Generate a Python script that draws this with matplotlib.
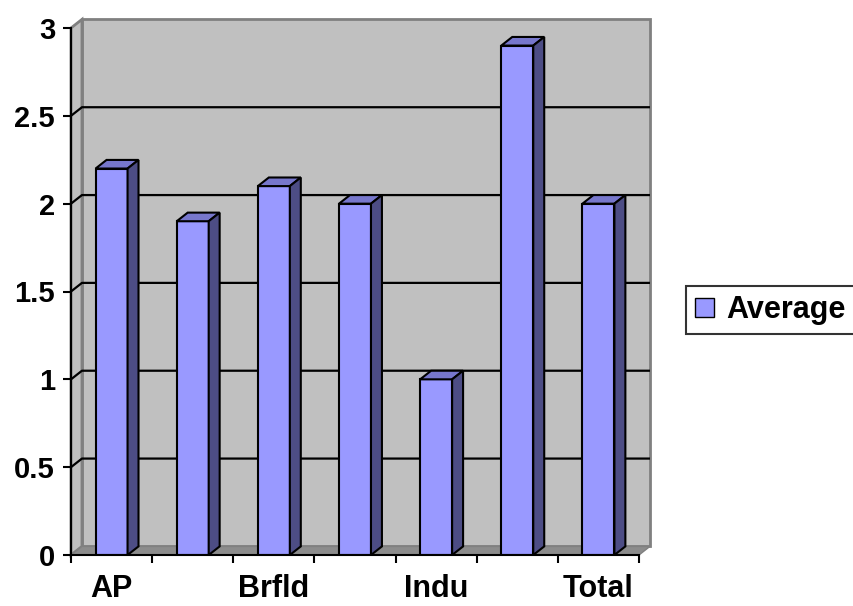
import matplotlib.pyplot as plt
from matplotlib.patches import Polygon, Patch

plt.rcParams['font.family'] = ['Liberation Sans', 'DejaVu Sans']
plt.rcParams['font.weight'] = 'bold'

# column chart data
categories = ["AP", "", "Brfld", "", "Indu", "", "Total"]
average = [2.2, 1.9, 2.1, 2.0, 1.0, 2.9, 2.0]
y_ticks = [0, 0.5, 1, 1.5, 2, 2.5, 3]
y_tick_labels = ["0", "0.5", "1", "1.5", "2", "2.5", "3"]

FRONT = "#9999FF"
TOP = "#7777CC"
SIDE = "#4D4D85"
WALL = "#C0C0C0"
FLOOR = "#8C8C8C"
EDGE_GRAY = "#808080"

# depth offset of the 3d effect, in data units
DX = 0.135
DY = 0.049
BAR_W = 0.394

fig = plt.figure(figsize=(8.54, 6.06), dpi=100)
ax = fig.add_axes([71 / 854, 51 / 606, 568 / 854, 527 / 606])
ax.patch.set_visible(False)

n = len(categories)
x0, x1 = -0.5, n - 0.5
ymax = 3

# back wall, side wall and floor
back = Polygon([(x0 + DX, DY), (x1 + DX, DY), (x1 + DX, ymax + DY), (x0 + DX, ymax + DY)],
               closed=True, facecolor=WALL, edgecolor=EDGE_GRAY, lw=2, zorder=0.5, clip_on=False)
side = Polygon([(x0, 0), (x0 + DX, DY), (x0 + DX, ymax + DY), (x0, ymax)],
               closed=True, facecolor=WALL, edgecolor=EDGE_GRAY, lw=2, zorder=0.6, clip_on=False)
floor = Polygon([(x0, 0), (x1, 0), (x1 + DX, DY), (x0 + DX, DY)],
                closed=True, facecolor=FLOOR, edgecolor=EDGE_GRAY, lw=1, zorder=0.7, clip_on=False)
for p in (back, side, floor):
    ax.add_patch(p)

# gridlines running over side wall and back wall
for v in y_ticks[1:-1]:
    ax.plot([x0, x0 + DX, x1 + DX], [v, v + DY, v + DY], color="black", lw=1.6,
            zorder=1, clip_on=False, solid_capstyle="butt")

# bars: front faces plus top and side faces
xs = list(range(n))
bars = ax.bar(xs, average, width=BAR_W, color=FRONT, edgecolor="black", lw=1.5, zorder=3)
for x, v in zip(xs, average):
    l, r = x - BAR_W / 2, x + BAR_W / 2
    top = Polygon([(l, v), (r, v), (r + DX, v + DY), (l + DX, v + DY)], closed=True,
                  facecolor=TOP, edgecolor="black", lw=1.5, zorder=3, clip_on=False,
                  joinstyle="miter")
    sd = Polygon([(r, 0), (r + DX, DY), (r + DX, v + DY), (r, v)], closed=True,
                 facecolor=SIDE, edgecolor="black", lw=1.5, zorder=3, clip_on=False,
                 joinstyle="miter")
    ax.add_patch(top)
    ax.add_patch(sd)

ax.set_xlim(x0, x1)
ax.set_ylim(0, ymax)

for s in ("top", "right"):
    ax.spines[s].set_visible(False)
for s in ("left", "bottom"):
    ax.spines[s].set_linewidth(1.5)
    ax.spines[s].set_zorder(4)

ax.set_yticks(y_ticks)
ax.set_yticklabels(y_tick_labels)
ax.tick_params(axis="y", length=6, width=1.5, pad=5.5, labelsize=21)

# boundary ticks on the category axis, labels at the centres
ax.set_xticks([i - 0.5 for i in range(n + 1)])
ax.set_xticklabels([])
ax.set_xticks(xs, minor=True)
ax.set_xticklabels(categories, minor=True)
ax.tick_params(axis="x", which="major", length=6, width=1.5, direction="out")
ax.tick_params(axis="x", which="minor", length=0, pad=14, labelsize=22)

fig.legend(handles=[Patch(facecolor=FRONT, edgecolor="black", lw=1)], labels=["Average"],
           loc="upper left", bbox_to_anchor=(686 / 854, 1 - 286 / 606),
           fontsize=22, frameon=True, fancybox=False, edgecolor="black",
           handlelength=0.62, handleheight=0.62, handletextpad=0.4, borderpad=0.3,
           borderaxespad=0)
fig.legends[0].get_frame().set_linewidth(1.5)

fig.savefig("out.png", dpi=100)
